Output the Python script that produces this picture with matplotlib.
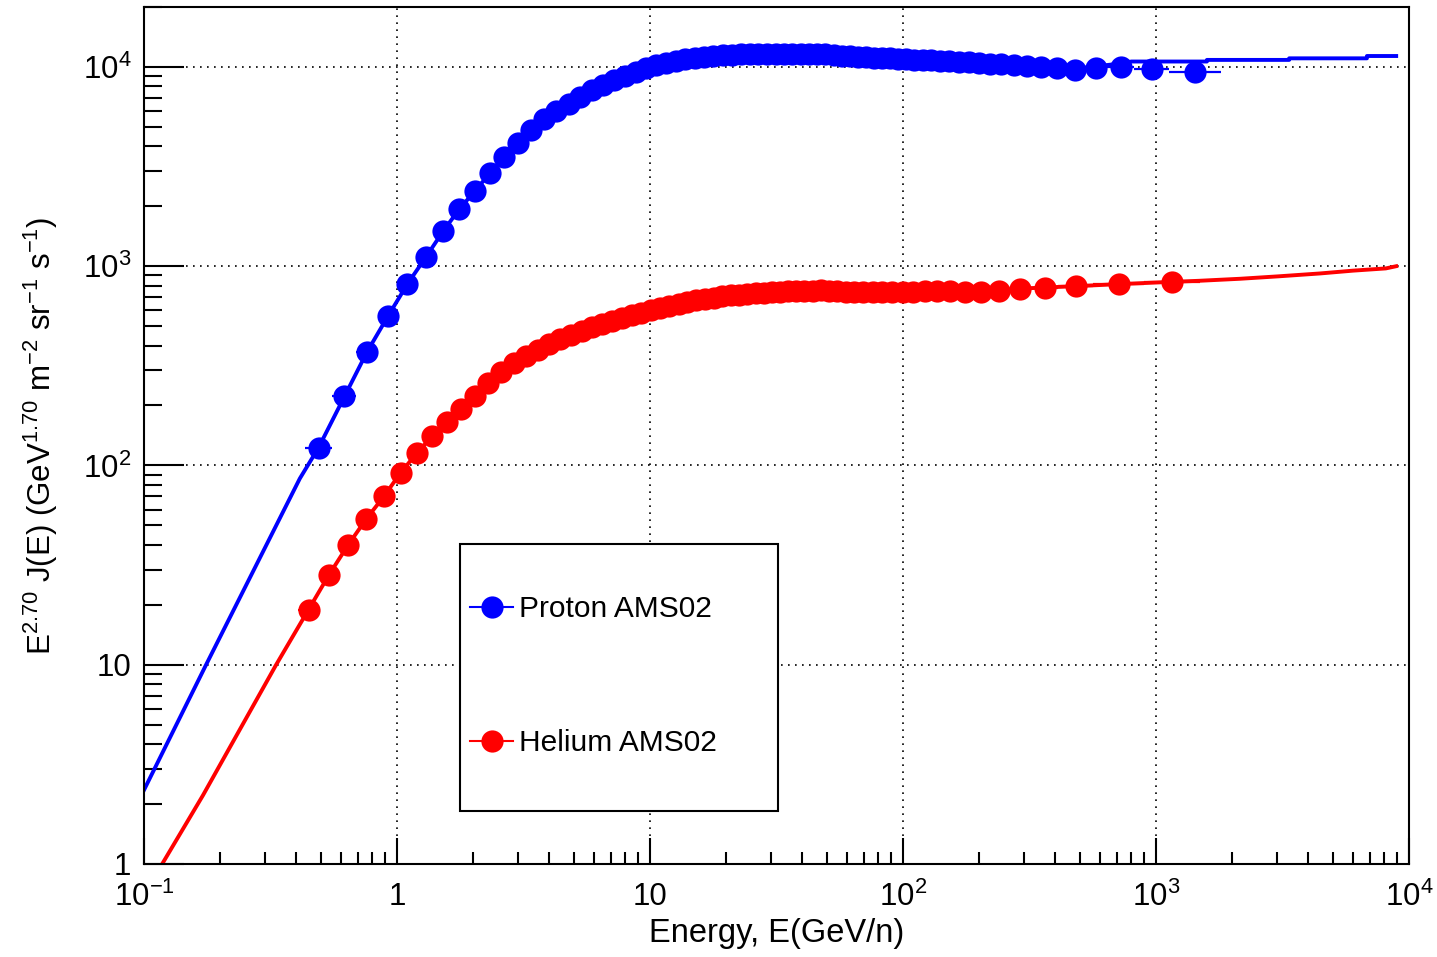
import numpy as np
import matplotlib
matplotlib.use('Agg')
import matplotlib.pyplot as plt
from matplotlib.lines import Line2D
from matplotlib.patches import Rectangle
from matplotlib.ticker import LogLocator, NullFormatter

plt.rcParams['font.family'] = ['Liberation Sans', 'DejaVu Sans']
plt.rcParams['mathtext.fontset'] = 'custom'
plt.rcParams['mathtext.rm'] = 'Liberation Sans'
plt.rcParams['mathtext.it'] = 'Liberation Sans:italic'
plt.rcParams['mathtext.bf'] = 'Liberation Sans:bold'

# proton AMS02, kinetic energy (GeV) and E^2.7 J(E)
p_E = [0.49, 0.62, 0.76, 0.92, 1.10, 1.30, 1.52, 1.76, 2.03, 2.33, 2.65, 3.00,
       3.39, 3.81, 4.27, 4.77, 5.31, 5.90, 6.54, 7.23, 7.97, 8.78, 9.64, 10.59,
       11.59, 12.63, 13.78, 15.03, 16.37, 17.82, 19.36, 21.01, 22.81, 24.76, 26.81, 29.0,
       31.36, 33.85, 36.55, 39.45, 42.54, 45.84, 49.39, 53.2, 57.2, 61.6, 66.3, 71.3,
       76.7, 82.5, 88.8, 95.5, 103, 111, 119.5, 129, 140, 152.4, 166.4, 182.4,
       200.4, 220.8, 244.7, 273.6, 309, 352.7, 408, 480, 580, 726, 963, 1425]
p_flux = [123, 222, 370, 560, 815, 1110, 1495, 1930, 2380, 2930, 3550, 4170,
          4840, 5500, 6000, 6550, 7100, 7650, 8150, 8600, 9050, 9450, 9850, 10200,
          10500, 10750, 10950, 11100, 11250, 11350, 11450, 11500, 11550, 11600, 11600, 11650,
          11650, 11650, 11600, 11600, 11600, 11600, 11550, 11500, 11400, 11300, 11250, 11200,
          11150, 11100, 11050, 11000, 10950, 10900, 10850, 10800, 10750, 10700, 10650, 10550,
          10500, 10400, 10300, 10200, 10100, 10000, 9900, 9700, 9900, 9950, 9750, 9450]
p_edges = [0.433, 0.554, 0.690, 0.840, 1.012, 1.199, 1.408, 1.639, 1.892, 2.177, 2.483, 2.821,
           3.190, 3.590, 4.031, 4.513, 5.036, 5.600, 6.214, 6.879, 7.594, 8.37, 9.206, 10.10,
           11.10, 12.10, 13.19, 14.39, 15.69, 17.09, 18.59, 20.18, 21.88, 23.78, 25.78, 27.88,
           30.18, 32.57, 35.17, 37.97, 40.97, 44.17, 47.57, 51.27, 55.17, 59.37, 63.87, 68.77,
           73.97, 79.57, 85.57, 92.07, 99.07, 107.1, 115.1, 124.1, 134.1, 146.1, 159.1, 174.1,
           191.1, 210.1, 232.1, 258.1, 290.1, 329.1, 378.1, 440.1, 524.1, 642.1, 821.1, 1129, 1799]

# helium AMS02, kinetic energy per nucleon (GeV/n)
he_E = [0.447, 0.538, 0.640, 0.757, 0.888, 1.034, 1.196, 1.375, 1.573, 1.792, 2.033, 2.295,
        2.581, 2.892, 3.230, 3.596, 3.993, 4.420, 4.889, 5.383, 5.903, 6.473, 7.093, 7.764,
        8.48, 9.25, 10.07, 10.97, 11.94, 12.97, 14.06, 15.22, 16.48, 17.83, 19.27, 20.82,
        22.47, 24.25, 26.14, 28.17, 30.34, 32.69, 35.21, 37.91, 40.80, 43.92, 47.30, 51.03,
        55.03, 59.28, 64.03, 69.5, 75.8, 82.7, 90.7, 99.7, 109.9, 121.9, 136.3, 154.0,
        175.9, 203.5, 239.7, 289.6, 362.6, 481, 712, 1161]
he_flux = [18.9, 28.2, 39.8, 54, 70, 92, 115, 140, 166, 193, 224, 260,
           296, 328, 355, 380, 405, 430, 452, 474, 494, 514, 533, 551,
           568, 585, 601, 618, 634, 648, 661, 674, 686, 696, 705, 713,
           720, 726, 731, 736, 740, 744, 747, 750, 752, 754, 756, 752,
           748, 745, 743, 742, 742, 742, 742, 743, 745, 748, 750, 752,
           745, 745, 752, 772, 776, 794, 813, 832]
he_edges = [0.406, 0.491, 0.588, 0.696, 0.821, 0.959, 1.113, 1.284, 1.471, 1.680, 1.910, 2.162,
            2.435, 2.734, 3.059, 3.410, 3.791, 4.204, 4.647, 5.141, 5.635, 6.180, 6.775, 7.421,
            8.117, 8.863, 9.660, 10.51, 11.45, 12.45, 13.50, 14.65, 15.84, 17.14, 18.54, 20.04,
            21.64, 23.34, 25.19, 27.13, 29.23, 31.48, 33.93, 36.53, 39.33, 42.33, 45.58, 49.08,
            53.08, 57.08, 61.58, 66.58, 72.58, 79.08, 86.58, 95.08, 104.6, 115.6, 128.6, 144.6,
            164.1, 188.6, 219.6, 261.6, 320.6, 410.1, 564.1, 899.1, 1499]

# model curves
p_model_E = [0.1, 0.176, 0.413, 0.49, 0.62, 0.76, 0.92, 1.1, 1.3, 1.52, 1.76, 2.03, 2.33, 2.65,
             3.0, 3.81, 5.31, 7.97, 11.59, 16.37, 22.81, 31.36, 42.54, 57.2, 76.7, 103, 140,
             200, 309, 480, 720, 800, 1590, 1590, 3360, 3360, 6820, 6820, 8900]
p_model = [2.35, 10, 86, 123, 222, 370, 560, 815, 1110, 1495, 1930, 2380, 2930, 3550,
           4170, 5500, 7100, 9050, 10500, 11250, 11550, 11650, 11600, 11400, 11150, 10950, 10750,
           10500, 10100, 9800, 10400, 10650, 10650, 10850, 10850, 11050, 11050, 11350, 11350]
he_model_E = [0.118, 0.171, 0.333, 0.447, 0.538, 0.640, 0.757, 0.888, 1.034, 1.196, 1.375, 1.573,
              1.792, 2.033, 2.295, 2.581, 3.596, 5.383, 8.48, 12.97, 20.82, 32.69, 51.03, 82.7,
              136.3, 203.5, 289.6, 481, 712, 1161, 1480, 2150, 3060, 4460, 6000, 8100, 8900]
he_model = [1.0, 2.21, 10, 18.9, 28.2, 39.8, 54, 70, 92, 115, 140, 166,
            193, 224, 260, 296, 380, 474, 568, 648, 713, 744, 752, 742,
            750, 745, 772, 794, 813, 835, 845, 865, 890, 920, 950, 975, 1000]

fig = plt.figure(figsize=(14.37, 9.57), dpi=100)
ax = fig.add_axes([0.1002, 0.0972, 0.8803, 0.8955])

ax.plot(p_model_E, p_model, color='blue', lw=2.8, zorder=2)
ax.plot(he_model_E, he_model, color='red', lw=2.8, zorder=2)

for E, F, edges, col in [(p_E, p_flux, p_edges, 'blue'), (he_E, he_flux, he_edges, 'red')]:
    E = np.array(E)
    edges = np.array(edges)
    xerr = [E - edges[:-1], edges[1:] - E]
    ax.errorbar(E, F, xerr=xerr, fmt='o', color=col, ms=16, mew=0,
                elinewidth=1.6, capsize=3.5, capthick=1.6, zorder=3)

ax.set_xscale('log')
ax.set_yscale('log')
ax.set_xlim(0.1, 1e4)
ax.set_ylim(1, 2.0e4)

ax.set_xticks([0.1, 1, 10, 100, 1000, 10000],
              ['$10^{-1}$', '1', '10', '$10^{2}$', '$10^{3}$', '$10^{4}$'])
ax.set_yticks([1, 10, 100, 1000, 10000],
              ['1', '10', '$10^{2}$', '$10^{3}$', '$10^{4}$'])
for axis in [ax.xaxis, ax.yaxis]:
    axis.set_minor_locator(LogLocator(base=10, subs=range(2, 10), numticks=20))
    axis.set_minor_formatter(NullFormatter())

ax.tick_params(axis='both', which='both', direction='in', top=False, right=False,
               labelsize=22.5, width=1.5, color='black')
ax.tick_params(axis='x', which='major', length=19, pad=13)
ax.tick_params(axis='x', which='minor', length=8.6)
ax.tick_params(axis='y', which='major', length=29, pad=9)
ax.tick_params(axis='y', which='minor', length=13)

ax.grid(True, which='major', color='black', linestyle=(0, (1, 3.2)), linewidth=1.2)
ax.set_axisbelow(True)
for s in ax.spines.values():
    s.set_linewidth(1.5)

ax.set_xlabel('Energy, E(GeV/n)', fontsize=23.5)
ax.xaxis.set_label_coords(0.5, -0.063)
ax.set_ylabel(r'E$^{2.70}$ J(E) (GeV$^{1.70}$ m$^{-2}$ sr$^{-1}$ s$^{-1}$)', fontsize=22.5)
ax.yaxis.set_label_coords(-0.0664, 0.5)

ax.add_patch(Rectangle((0.2498, 0.0618), 0.2514, 0.3116, transform=ax.transAxes,
                       facecolor='white', edgecolor='black', lw=1.5, zorder=4))
handles = [Line2D([], [], color='blue', marker='o', ms=16, mew=0, lw=1.5),
           Line2D([], [], color='red', marker='o', ms=16, mew=0, lw=1.5)]
leg = ax.legend(handles, ['Proton AMS02', 'Helium AMS02'], loc='upper left',
                bbox_to_anchor=(0.2577, 0.3139), bbox_transform=ax.transAxes,
                frameon=False, fontsize=21.5, handlelength=1.45, handletextpad=0.2,
                labelspacing=3.55, borderpad=0, borderaxespad=0)
leg.set_zorder(5)

fig.savefig('out.png', dpi=100, facecolor='white')
